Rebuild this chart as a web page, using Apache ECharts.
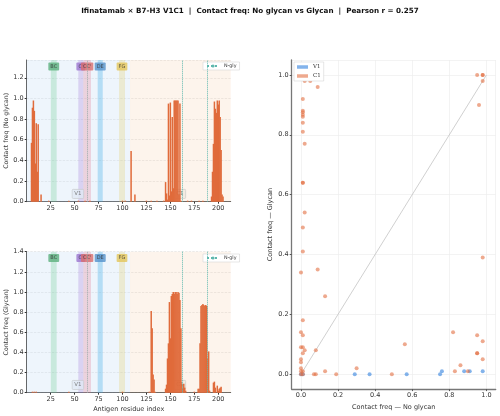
<!DOCTYPE html>
<html><head><meta charset="utf-8">
<script src="https://cdn.jsdelivr.net/npm/echarts@6/dist/echarts.min.js"></script>
<style>html,body{margin:0;padding:0;background:#fff}#c{width:500px;height:416px}</style>
</head><body><div id="c"></div>
<script>
const titleText = 'Ifinatamab × B7-H3 V1C1  |  Contact freq: No glycan vs Glycan  |  Pearson r = 0.257';

const noGlyResidues = [5,6,7,8,9,10,11,12,15,23,44,54,61,66,100,103,109,113,125,130,136,143,
  145,146,147,148,149,150,151,152,153,154,155,156,157,158,159,160,161,168,172,180,184,
  193,194,195,196,197,198,199,200,201,202,203,204,205];
const noGlyValues = [0.57,0.91,0.98,0.88,0.37,0.76,0.29,0.75,0.07,0.01,0.01,0.01,0.01,0.01,0.01,0.01,0.49,0.07,0.01,0.01,0.01,0.01,
  0.19,0.08,0.02,0.95,0.06,0.96,0.10,0.82,0.13,0.98,0.98,0.98,0.98,0.98,0.07,0.95,0.01,0.01,0.01,0.01,0.01,
  0.05,0.29,0.56,0.97,0.90,0.86,0.98,0.94,0.98,0.82,0.50,0.07,0.05];

const glyResidues = [6,8,10,44,100,128,130,131,132,133,134,
  145,146,147,148,149,150,151,152,153,154,155,156,157,158,159,160,161,162,163,164,165,166,
  175,179,180,181,182,183,184,185,186,187,188,189,190,191,
  195,196,197,199,200,201,202,203];
const glyValues = [0.01,0.01,0.01,0.01,0.01,0.01,0.81,0.64,0.18,0.13,0.01,
  0.04,0.08,0.34,0.49,0.90,0.54,0.96,0.98,1.0,0.98,1.0,1.0,0.98,1.0,0.99,0.92,0.64,0.09,0.05,0.09,0.05,0.02,
  0.01,0.04,0.04,0.49,0.86,0.87,0.88,0.87,0.86,0.87,0.86,0.34,0.41,0.02,
  0.10,0.11,0.05,0.07,0.02,0.04,0.05,0.06];

const domainNames = ['V1','C1'];
const domainStart = [0,107.9];
const domainEnd = [107.9,213];
const domainLabelX = [53.5,160];

const strandNames = ['BC',"C'","CC'",'DE','FG'];
const strandStart = [25.2,53.9,59.1,74.1,96.4];
const strandEnd = [31.3,59.1,67.1,79.4,102.6];

const nglySites = [63.7,162.5,188.6];

const v1NoGly = [0.29,0.37,0.57,0.75,0.76,0.88,0.91,0.98,0.0,0.01];
const v1Gly   = [0.0,0.0,0.0,0.0,0.01,0.01,0.01,0.01,0.0,0.0];
const c1NoGly = [0.95,0.98,0.98,0.98,0.96,0.02,0.05,0.09,0.01,0.01,0.01,0.01,0.01,0.01,0.01,0.02,0.01,0.01,0.02,0.01,0.01,0.0,0.09,0.13,0.01,0.0,0.01,0.0,0.01,0.02,0.01,0.08,0.0,0.0,0.0,0.0,0.01,0.0,0.01,0.07,0.08,0.13,0.19,0.30,0.49,0.56,0.82,0.83,0.86,0.90,0.95,0.95,0.95,0.98,0.98,0.98];
const c1Gly   = [1.0,1.0,1.0,0.98,0.90,0.98,0.98,0.96,0.92,0.88,0.875,0.867,0.86,0.84,0.81,0.77,0.64,0.64,0.54,0.49,0.41,0.34,0.35,0.26,0.18,0.14,0.13,0.09,0.09,0.08,0.07,0.08,0.05,0.04,0.02,0.01,0.01,0.0,0.0,0.0,0.0,0.01,0.0,0.02,0.0,0.10,0.14,0.01,0.03,0.01,0.13,0.07,0.07,0.11,0.05,0.39];

const FONT = 'DejaVu Sans';
const BAR = '#E06B3B';
const domainColors = ['rgba(195,220,245,0.28)','rgba(245,200,160,0.2)'];
const domainLabelBg = ['rgba(225,234,245,0.95)','rgba(240,232,222,0.95)'];
const strandColors = ['rgba(100,200,140,0.28)','rgba(160,120,215,0.28)','rgba(225,110,130,0.26)','rgba(60,170,230,0.32)','rgba(225,205,100,0.28)'];
const strandLabelBg = ['#5DB07E','#9C76CF','#DA6E6E','#5592CC','#E3C55A'];

const ymaxTop = 1.372, ymaxBot = 1.4;

function annotSeries(gi, ymax) {
  const areas = [];
  domainNames.forEach((d,i)=>areas.push([{xAxis:domainStart[i], itemStyle:{color:domainColors[i]}},{xAxis:domainEnd[i]}]));
  strandNames.forEach((s,i)=>areas.push([{xAxis:strandStart[i], itemStyle:{color:strandColors[i]}},{xAxis:strandEnd[i]}]));
  const lines = nglySites.map((x,i)=>({xAxis:x, lineStyle:{color: i===0 ? '#9aa' : '#5FB8AE'}}));
  const labels = [];
  strandNames.forEach((s,i)=>labels.push({name:s, value:[(strandStart[i]+strandEnd[i])/2, ymax*0.955],
    label:{backgroundColor:strandLabelBg[i], borderColor:'rgba(255,255,255,0.6)'}}));
  domainNames.forEach((d,i)=>labels.push({name:d, value:[domainLabelX[i], ymax*0.055],
    label:{backgroundColor:domainLabelBg[i], borderColor:'#bbb', borderWidth:0.5, color:'#666', fontSize:5.5}}));
  return {
    type:'scatter', xAxisIndex:gi, yAxisIndex:gi, symbolSize:0, z:1, silent:true,
    data: labels,
    label:{show:true, position:'inside', formatter:p=>p.name, fontSize:5, fontFamily:FONT, color:'#333', padding:[1.5,2], borderRadius:1},
    markArea:{silent:true, data:areas},
    markLine:{silent:true, symbol:['none','none'], label:{show:false}, lineStyle:{type:'dotted', width:1, opacity:1}, data:lines}
  };
}

const leftX = (gi, withName) => ({gridIndex:gi, type:'value', min:0, max:213, interval:25,
  name: withName ? 'Antigen residue index' : '', nameLocation:'middle', nameGap:13,
  nameTextStyle:{fontSize:6.5, color:'#333'},
  axisLine:{onZero:false, lineStyle:{color:'#333', width:0.8}}, axisTick:{length:2, lineStyle:{color:'#333'}},
  axisLabel:{fontSize:6.5, color:'#333', margin:3, showMinLabel:false, showMaxLabel:false, formatter:v=>String(v)},
  splitLine:{show:false}});

const option = {
  animation:false,
  textStyle:{fontFamily:FONT},
  title:{text:titleText, left:'center', top:3, textStyle:{fontSize:7.2, fontWeight:'bold', fontFamily:FONT, color:'#111'}},
  grid:[
    {left:26.7, top:60, width:204, height:141.7},
    {left:26.7, top:251.7, width:204, height:141},
    {left:291.7, top:60, width:204, height:332.7}
  ],
  legend:[
    {data:['N-gly'], left:203, top:62, itemWidth:12, itemHeight:4, itemGap:2, padding:[1.5,3], backgroundColor:'#fff', borderColor:'#ccc', borderWidth:0.5, textStyle:{fontSize:4.8, color:'#333', fontFamily:FONT}},
    {data:['N-gly'], left:203, top:254, itemWidth:12, itemHeight:4, itemGap:2, padding:[1.5,3], backgroundColor:'#fff', borderColor:'#ccc', borderWidth:0.5, textStyle:{fontSize:4.8, color:'#333', fontFamily:FONT}},
    {data:['V1','C1'], orient:'vertical', left:294, top:62, icon:'rect', itemWidth:11, itemHeight:3.5, itemGap:3, padding:[2,3], backgroundColor:'#fff', borderColor:'#ccc', borderWidth:0.5, textStyle:{fontSize:5.5, color:'#333', fontFamily:'DejaVu Serif'}}
  ],
  xAxis:[
    leftX(0,false),
    leftX(1,true),
    {gridIndex:2, type:'value', min:-0.05, max:1.05, splitNumber:5, name:'Contact freq — No glycan', nameLocation:'middle', nameGap:13,
      nameTextStyle:{fontSize:6.5, color:'#333'},
      axisLine:{onZero:false, lineStyle:{color:'#777', width:1.3}}, axisTick:{length:2, lineStyle:{color:'#555'}},
      axisLabel:{fontSize:6.5, color:'#333', margin:3, showMinLabel:false, showMaxLabel:false, formatter:v=>v.toFixed(1)},
      splitLine:{show:true, lineStyle:{color:'#eee', width:0.7}}}
  ],
  yAxis:[
    {gridIndex:0, type:'value', min:0, max:ymaxTop, interval:0.2, name:'Contact freq (No glycan)', nameLocation:'middle', nameGap:17,
      nameTextStyle:{fontSize:6.2, color:'#333'},
      axisLine:{show:true, onZero:false, lineStyle:{color:'#333', width:0.8}}, axisTick:{show:true, length:2, lineStyle:{color:'#333'}},
      axisLabel:{fontSize:6.5, color:'#333', margin:3, showMaxLabel:false, formatter:v=>v.toFixed(1)},
      splitLine:{show:true, lineStyle:{color:'#ddd', type:'dashed', width:0.6}}},
    {gridIndex:1, type:'value', min:0, max:ymaxBot, interval:0.2, name:'Contact freq (Glycan)', nameLocation:'middle', nameGap:17,
      nameTextStyle:{fontSize:6.2, color:'#333'},
      axisLine:{show:true, onZero:false, lineStyle:{color:'#333', width:0.8}}, axisTick:{show:true, length:2, lineStyle:{color:'#333'}},
      axisLabel:{fontSize:6.5, color:'#333', margin:3, formatter:v=>v.toFixed(1)},
      splitLine:{show:true, lineStyle:{color:'#ddd', type:'dashed', width:0.6}}},
    {gridIndex:2, type:'value', min:-0.05, max:1.05, splitNumber:5, name:'Contact freq — Glycan', nameLocation:'middle', nameGap:18,
      nameTextStyle:{fontSize:6.5, color:'#333'},
      axisLine:{show:true, onZero:false, lineStyle:{color:'#777', width:1.3}}, axisTick:{show:true, length:2, lineStyle:{color:'#555'}},
      axisLabel:{fontSize:6.5, color:'#333', margin:3, showMinLabel:false, showMaxLabel:false, formatter:v=>v.toFixed(1)},
      splitLine:{show:true, lineStyle:{color:'#eee', width:0.7}}}
  ],
  series:[
    annotSeries(0, ymaxTop),
    annotSeries(1, ymaxBot),
    {type:'bar', name:'No glycan', xAxisIndex:0, yAxisIndex:0, barWidth:1.5, z:3,
      itemStyle:{color:BAR}, data:noGlyResidues.map((r,i)=>[r,noGlyValues[i]])},
    {type:'bar', name:'Glycan', xAxisIndex:1, yAxisIndex:1, barWidth:1.5, z:3,
      itemStyle:{color:BAR}, data:glyResidues.map((r,i)=>[r,glyValues[i]])},
    {type:'line', name:'N-gly', xAxisIndex:0, yAxisIndex:0, data:[], symbol:'none', lineStyle:{type:'dotted', color:'#5FB8AE', width:1}, itemStyle:{color:'#5FB8AE'}},
    {type:'line', name:'diag', xAxisIndex:2, yAxisIndex:2, data:[[0,0],[1,1]], symbol:'none', silent:true, z:1,
      lineStyle:{color:'#bbb', width:0.7}},
    {type:'scatter', name:'V1', xAxisIndex:2, yAxisIndex:2, symbolSize:4, z:3,
      itemStyle:{color:'rgba(74,144,226,0.85)'}, data:v1NoGly.map((v,i)=>[v,v1Gly[i]])},
    {type:'scatter', name:'C1', xAxisIndex:2, yAxisIndex:2, symbolSize:4, z:3,
      itemStyle:{color:'rgba(226,112,66,0.75)'}, data:c1NoGly.map((v,i)=>[v,c1Gly[i]])}
  ]
};
const chart = echarts.init(document.getElementById('c'), null, {renderer:'canvas'});
chart.setOption(option);
</script></body></html>
